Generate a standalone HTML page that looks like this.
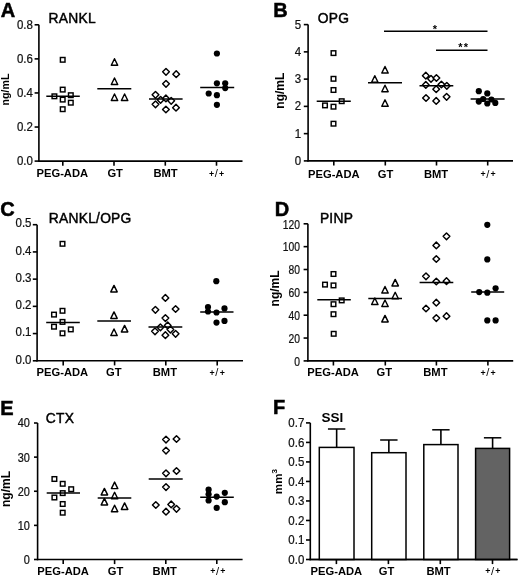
<!DOCTYPE html>
<html><head><meta charset="utf-8"><style>
html,body{margin:0;padding:0;background:#fff;}
body{width:520px;height:577px;overflow:hidden;}
svg{display:block;font-family:"Liberation Sans", sans-serif;filter:grayscale(1);}
</style></head><body>
<svg width="520" height="577" viewBox="0 0 520 577">
<rect width="520" height="577" fill="#fff"/>
<text x="0.8" y="17.3" font-size="20" font-weight="bold" text-anchor="start" fill="#000" stroke="#000" stroke-width="0.5">A</text>
<text x="48.6" y="23" font-size="13.8" font-weight="normal" text-anchor="start" fill="#000" stroke="#000" stroke-width="0.45" letter-spacing="0.25">RANKL</text>
<line x1="38.9" y1="24.8" x2="38.9" y2="161.79999999999998" stroke="#000" stroke-width="1.6"/>
<line x1="34.6" y1="24.8" x2="38.9" y2="24.8" stroke="#000" stroke-width="1.6"/>
<text x="0" y="0" font-size="11.5" text-anchor="end" fill="#111" stroke="#111" stroke-width="0.22" transform="translate(32.90,29.10) scale(1.0,1.07)">0.8</text>
<line x1="34.6" y1="58.875" x2="38.9" y2="58.875" stroke="#000" stroke-width="1.6"/>
<text x="0" y="0" font-size="11.5" text-anchor="end" fill="#111" stroke="#111" stroke-width="0.22" transform="translate(32.90,63.17) scale(1.0,1.07)">0.6</text>
<line x1="34.6" y1="92.94999999999999" x2="38.9" y2="92.94999999999999" stroke="#000" stroke-width="1.6"/>
<text x="0" y="0" font-size="11.5" text-anchor="end" fill="#111" stroke="#111" stroke-width="0.22" transform="translate(32.90,97.25) scale(1.0,1.07)">0.4</text>
<line x1="34.6" y1="127.02499999999999" x2="38.9" y2="127.02499999999999" stroke="#000" stroke-width="1.6"/>
<text x="0" y="0" font-size="11.5" text-anchor="end" fill="#111" stroke="#111" stroke-width="0.22" transform="translate(32.90,131.32) scale(1.0,1.07)">0.2</text>
<line x1="34.6" y1="161.1" x2="38.9" y2="161.1" stroke="#000" stroke-width="1.6"/>
<text x="0" y="0" font-size="11.5" text-anchor="end" fill="#111" stroke="#111" stroke-width="0.22" transform="translate(32.90,165.40) scale(1.0,1.07)">0.0</text>
<line x1="38.199999999999996" y1="161.1" x2="242.5" y2="161.1" stroke="#000" stroke-width="1.6"/>
<line x1="62.8" y1="161.1" x2="62.8" y2="165.7" stroke="#000" stroke-width="1.6"/>
<text x="62.3" y="177.2" font-size="11.2" font-weight="bold" text-anchor="middle" fill="#000" >PEG-ADA</text>
<line x1="114" y1="161.1" x2="114" y2="165.7" stroke="#000" stroke-width="1.6"/>
<text x="115.2" y="177.2" font-size="11.2" font-weight="bold" text-anchor="middle" fill="#000" >GT</text>
<line x1="165.3" y1="161.1" x2="165.3" y2="165.7" stroke="#000" stroke-width="1.6"/>
<text x="165.6" y="177.2" font-size="11.2" font-weight="bold" text-anchor="middle" fill="#000" >BMT</text>
<line x1="216.5" y1="161.1" x2="216.5" y2="165.7" stroke="#000" stroke-width="1.6"/>
<text x="216.6" y="177.2" font-size="11.2" font-weight="bold" text-anchor="middle" fill="#000" ><tspan font-size="8.8" dy="-0.7">+</tspan><tspan dx="0.6" dy="0.7" font-weight="normal">/</tspan><tspan dx="1.2" dy="-0.7" font-size="8.8">+</tspan></text>
<text x="0" y="0" font-size="10.6" font-weight="bold" text-anchor="middle" transform="translate(5.4,89.5) rotate(-90)" dominant-baseline="central">ng/mL</text>
<rect x="60.40" y="57.50" width="4.6" height="4.6" fill="#fff" stroke="#000" stroke-width="1.45"/>
<rect x="60.40" y="87.30" width="4.6" height="4.6" fill="#fff" stroke="#000" stroke-width="1.45"/>
<rect x="52.10" y="94.00" width="4.6" height="4.6" fill="#fff" stroke="#000" stroke-width="1.45"/>
<rect x="68.50" y="92.90" width="4.6" height="4.6" fill="#fff" stroke="#000" stroke-width="1.45"/>
<rect x="60.40" y="97.30" width="4.6" height="4.6" fill="#fff" stroke="#000" stroke-width="1.45"/>
<rect x="68.50" y="100.40" width="4.6" height="4.6" fill="#fff" stroke="#000" stroke-width="1.45"/>
<rect x="60.40" y="106.90" width="4.6" height="4.6" fill="#fff" stroke="#000" stroke-width="1.45"/>
<line x1="46.3" y1="96.3" x2="79.8" y2="96.3" stroke="#000" stroke-width="1.5"/>
<path d="M114.50 58.70L117.70 65.20L111.30 65.20Z" fill="#fff" stroke="#000" stroke-width="1.45" stroke-linejoin="round"/>
<path d="M114.50 78.00L117.70 84.50L111.30 84.50Z" fill="#fff" stroke="#000" stroke-width="1.45" stroke-linejoin="round"/>
<path d="M114.50 94.00L117.70 100.50L111.30 100.50Z" fill="#fff" stroke="#000" stroke-width="1.45" stroke-linejoin="round"/>
<path d="M124.60 94.00L127.80 100.50L121.40 100.50Z" fill="#fff" stroke="#000" stroke-width="1.45" stroke-linejoin="round"/>
<line x1="97.3" y1="88.7" x2="131.3" y2="88.7" stroke="#000" stroke-width="1.5"/>
<path d="M166.00 68.45L169.35 71.80L166.00 75.15L162.65 71.80Z" fill="#fff" stroke="#000" stroke-width="1.45" stroke-linejoin="round"/>
<path d="M176.20 70.85L179.55 74.20L176.20 77.55L172.85 74.20Z" fill="#fff" stroke="#000" stroke-width="1.45" stroke-linejoin="round"/>
<path d="M166.00 80.45L169.35 83.80L166.00 87.15L162.65 83.80Z" fill="#fff" stroke="#000" stroke-width="1.45" stroke-linejoin="round"/>
<path d="M155.50 91.45L158.85 94.80L155.50 98.15L152.15 94.80Z" fill="#fff" stroke="#000" stroke-width="1.45" stroke-linejoin="round"/>
<path d="M160.60 96.45L163.95 99.80L160.60 103.15L157.25 99.80Z" fill="#fff" stroke="#000" stroke-width="1.45" stroke-linejoin="round"/>
<path d="M165.90 95.05L169.25 98.40L165.90 101.75L162.55 98.40Z" fill="#fff" stroke="#000" stroke-width="1.45" stroke-linejoin="round"/>
<path d="M171.20 97.45L174.55 100.80L171.20 104.15L167.85 100.80Z" fill="#fff" stroke="#000" stroke-width="1.45" stroke-linejoin="round"/>
<path d="M155.50 100.95L158.85 104.30L155.50 107.65L152.15 104.30Z" fill="#fff" stroke="#000" stroke-width="1.45" stroke-linejoin="round"/>
<path d="M165.90 106.15L169.25 109.50L165.90 112.85L162.55 109.50Z" fill="#fff" stroke="#000" stroke-width="1.45" stroke-linejoin="round"/>
<path d="M176.00 104.35L179.35 107.70L176.00 111.05L172.65 107.70Z" fill="#fff" stroke="#000" stroke-width="1.45" stroke-linejoin="round"/>
<line x1="149" y1="98.9" x2="182.6" y2="98.9" stroke="#000" stroke-width="1.5"/>
<circle cx="216.90" cy="53.50" r="3.1" fill="#000"/>
<circle cx="216.90" cy="83.30" r="3.1" fill="#000"/>
<circle cx="225.20" cy="83.30" r="3.1" fill="#000"/>
<circle cx="225.20" cy="88.10" r="3.1" fill="#000"/>
<circle cx="208.70" cy="93.50" r="3.1" fill="#000"/>
<circle cx="216.90" cy="95.20" r="3.1" fill="#000"/>
<circle cx="216.90" cy="104.80" r="3.1" fill="#000"/>
<line x1="200.2" y1="87.5" x2="234.2" y2="87.5" stroke="#000" stroke-width="1.5"/>
<text x="273.2" y="16.6" font-size="20" font-weight="bold" text-anchor="start" fill="#000" stroke="#000" stroke-width="0.5">B</text>
<text x="317.8" y="22.8" font-size="13.8" font-weight="normal" text-anchor="start" fill="#000" stroke="#000" stroke-width="0.45" letter-spacing="0.25">OPG</text>
<line x1="308.1" y1="24.6" x2="308.1" y2="161.6" stroke="#000" stroke-width="1.6"/>
<line x1="303.8" y1="24.6" x2="308.1" y2="24.6" stroke="#000" stroke-width="1.6"/>
<text x="0" y="0" font-size="11.5" text-anchor="end" fill="#111" stroke="#111" stroke-width="0.22" transform="translate(301.10,28.60) scale(1.0,1.07)">5</text>
<line x1="303.8" y1="51.86" x2="308.1" y2="51.86" stroke="#000" stroke-width="1.6"/>
<text x="0" y="0" font-size="11.5" text-anchor="end" fill="#111" stroke="#111" stroke-width="0.22" transform="translate(301.10,55.86) scale(1.0,1.07)">4</text>
<line x1="303.8" y1="79.12" x2="308.1" y2="79.12" stroke="#000" stroke-width="1.6"/>
<text x="0" y="0" font-size="11.5" text-anchor="end" fill="#111" stroke="#111" stroke-width="0.22" transform="translate(301.10,83.12) scale(1.0,1.07)">3</text>
<line x1="303.8" y1="106.38" x2="308.1" y2="106.38" stroke="#000" stroke-width="1.6"/>
<text x="0" y="0" font-size="11.5" text-anchor="end" fill="#111" stroke="#111" stroke-width="0.22" transform="translate(301.10,110.38) scale(1.0,1.07)">2</text>
<line x1="303.8" y1="133.64000000000001" x2="308.1" y2="133.64000000000001" stroke="#000" stroke-width="1.6"/>
<text x="0" y="0" font-size="11.5" text-anchor="end" fill="#111" stroke="#111" stroke-width="0.22" transform="translate(301.10,137.64) scale(1.0,1.07)">1</text>
<line x1="303.8" y1="160.9" x2="308.1" y2="160.9" stroke="#000" stroke-width="1.6"/>
<text x="0" y="0" font-size="11.5" text-anchor="end" fill="#111" stroke="#111" stroke-width="0.22" transform="translate(301.10,164.90) scale(1.0,1.07)">0</text>
<line x1="307.40000000000003" y1="160.9" x2="513" y2="160.9" stroke="#000" stroke-width="1.6"/>
<line x1="333.8" y1="160.9" x2="333.8" y2="165.5" stroke="#000" stroke-width="1.6"/>
<text x="333.8" y="177.5" font-size="11.2" font-weight="bold" text-anchor="middle" fill="#000" >PEG-ADA</text>
<line x1="385.3" y1="160.9" x2="385.3" y2="165.5" stroke="#000" stroke-width="1.6"/>
<text x="385.6" y="177.5" font-size="11.2" font-weight="bold" text-anchor="middle" fill="#000" >GT</text>
<line x1="436.5" y1="160.9" x2="436.5" y2="165.5" stroke="#000" stroke-width="1.6"/>
<text x="436" y="177.5" font-size="11.2" font-weight="bold" text-anchor="middle" fill="#000" >BMT</text>
<line x1="487.7" y1="160.9" x2="487.7" y2="165.5" stroke="#000" stroke-width="1.6"/>
<text x="488.1" y="177.5" font-size="11.2" font-weight="bold" text-anchor="middle" fill="#000" ><tspan font-size="8.8" dy="-0.7">+</tspan><tspan dx="0.6" dy="0.7" font-weight="normal">/</tspan><tspan dx="1.2" dy="-0.7" font-size="8.8">+</tspan></text>
<text x="0" y="0" font-size="12" font-weight="bold" text-anchor="middle" transform="translate(280,90.7) rotate(-90)" dominant-baseline="central">ng/mL</text>
<rect x="331.20" y="50.80" width="4.6" height="4.6" fill="#fff" stroke="#000" stroke-width="1.45"/>
<rect x="331.20" y="76.50" width="4.6" height="4.6" fill="#fff" stroke="#000" stroke-width="1.45"/>
<rect x="331.20" y="87.70" width="4.6" height="4.6" fill="#fff" stroke="#000" stroke-width="1.45"/>
<rect x="339.40" y="98.90" width="4.6" height="4.6" fill="#fff" stroke="#000" stroke-width="1.45"/>
<rect x="322.70" y="103.10" width="4.6" height="4.6" fill="#fff" stroke="#000" stroke-width="1.45"/>
<rect x="331.20" y="104.40" width="4.6" height="4.6" fill="#fff" stroke="#000" stroke-width="1.45"/>
<rect x="331.20" y="121.40" width="4.6" height="4.6" fill="#fff" stroke="#000" stroke-width="1.45"/>
<line x1="316.7" y1="101.2" x2="350.8" y2="101.2" stroke="#000" stroke-width="1.5"/>
<path d="M385.00 66.50L388.20 73.00L381.80 73.00Z" fill="#fff" stroke="#000" stroke-width="1.45" stroke-linejoin="round"/>
<path d="M374.80 75.70L378.00 82.20L371.60 82.20Z" fill="#fff" stroke="#000" stroke-width="1.45" stroke-linejoin="round"/>
<path d="M385.00 85.20L388.20 91.70L381.80 91.70Z" fill="#fff" stroke="#000" stroke-width="1.45" stroke-linejoin="round"/>
<path d="M385.00 99.80L388.20 106.30L381.80 106.30Z" fill="#fff" stroke="#000" stroke-width="1.45" stroke-linejoin="round"/>
<line x1="368" y1="82.7" x2="402" y2="82.7" stroke="#000" stroke-width="1.5"/>
<path d="M425.80 72.35L429.15 75.70L425.80 79.05L422.45 75.70Z" fill="#fff" stroke="#000" stroke-width="1.45" stroke-linejoin="round"/>
<path d="M431.00 75.45L434.35 78.80L431.00 82.15L427.65 78.80Z" fill="#fff" stroke="#000" stroke-width="1.45" stroke-linejoin="round"/>
<path d="M436.40 74.65L439.75 78.00L436.40 81.35L433.05 78.00Z" fill="#fff" stroke="#000" stroke-width="1.45" stroke-linejoin="round"/>
<path d="M425.80 81.55L429.15 84.90L425.80 88.25L422.45 84.90Z" fill="#fff" stroke="#000" stroke-width="1.45" stroke-linejoin="round"/>
<path d="M441.40 81.15L444.75 84.50L441.40 87.85L438.05 84.50Z" fill="#fff" stroke="#000" stroke-width="1.45" stroke-linejoin="round"/>
<path d="M446.80 82.45L450.15 85.80L446.80 89.15L443.45 85.80Z" fill="#fff" stroke="#000" stroke-width="1.45" stroke-linejoin="round"/>
<path d="M436.20 85.85L439.55 89.20L436.20 92.55L432.85 89.20Z" fill="#fff" stroke="#000" stroke-width="1.45" stroke-linejoin="round"/>
<path d="M426.00 94.65L429.35 98.00L426.00 101.35L422.65 98.00Z" fill="#fff" stroke="#000" stroke-width="1.45" stroke-linejoin="round"/>
<path d="M436.20 97.55L439.55 100.90L436.20 104.25L432.85 100.90Z" fill="#fff" stroke="#000" stroke-width="1.45" stroke-linejoin="round"/>
<path d="M446.60 93.45L449.95 96.80L446.60 100.15L443.25 96.80Z" fill="#fff" stroke="#000" stroke-width="1.45" stroke-linejoin="round"/>
<line x1="419.5" y1="85.8" x2="453.3" y2="85.8" stroke="#000" stroke-width="1.5"/>
<circle cx="478.80" cy="91.20" r="3.1" fill="#000"/>
<circle cx="487.30" cy="93.40" r="3.1" fill="#000"/>
<circle cx="483.20" cy="99.00" r="3.1" fill="#000"/>
<circle cx="478.80" cy="101.60" r="3.1" fill="#000"/>
<circle cx="487.30" cy="103.50" r="3.1" fill="#000"/>
<circle cx="491.40" cy="99.50" r="3.1" fill="#000"/>
<circle cx="495.30" cy="102.90" r="3.1" fill="#000"/>
<line x1="470.6" y1="99" x2="504.6" y2="99" stroke="#000" stroke-width="1.5"/>
<line x1="384" y1="31.2" x2="487.5" y2="31.2" stroke="#000" stroke-width="1.6"/>
<line x1="436" y1="50.3" x2="487.5" y2="50.3" stroke="#000" stroke-width="1.6"/>
<text x="434.9" y="32.6" font-size="11" font-weight="bold" text-anchor="middle" fill="#000" >*</text>
<text x="460.3" y="51.3" font-size="11" font-weight="bold" text-anchor="middle" fill="#000" >*</text>
<text x="466" y="51.3" font-size="11" font-weight="bold" text-anchor="middle" fill="#000" >*</text>
<text x="0.3" y="216" font-size="20" font-weight="bold" text-anchor="start" fill="#000" stroke="#000" stroke-width="0.5">C</text>
<text x="48.800000000000004" y="223.3" font-size="13.8" font-weight="normal" text-anchor="start" fill="#000" stroke="#000" stroke-width="0.45" letter-spacing="0.25">RANKL/OPG</text>
<line x1="37.1" y1="224.7" x2="37.1" y2="361.5" stroke="#000" stroke-width="1.6"/>
<line x1="32.800000000000004" y1="224.7" x2="37.1" y2="224.7" stroke="#000" stroke-width="1.6"/>
<text x="0" y="0" font-size="11.5" text-anchor="end" fill="#111" stroke="#111" stroke-width="0.22" transform="translate(31.50,227.40) scale(1.0,1.07)">0.5</text>
<line x1="32.800000000000004" y1="251.92" x2="37.1" y2="251.92" stroke="#000" stroke-width="1.6"/>
<text x="0" y="0" font-size="11.5" text-anchor="end" fill="#111" stroke="#111" stroke-width="0.22" transform="translate(31.50,254.62) scale(1.0,1.07)">0.4</text>
<line x1="32.800000000000004" y1="279.14" x2="37.1" y2="279.14" stroke="#000" stroke-width="1.6"/>
<text x="0" y="0" font-size="11.5" text-anchor="end" fill="#111" stroke="#111" stroke-width="0.22" transform="translate(31.50,281.84) scale(1.0,1.07)">0.3</text>
<line x1="32.800000000000004" y1="306.36" x2="37.1" y2="306.36" stroke="#000" stroke-width="1.6"/>
<text x="0" y="0" font-size="11.5" text-anchor="end" fill="#111" stroke="#111" stroke-width="0.22" transform="translate(31.50,309.06) scale(1.0,1.07)">0.2</text>
<line x1="32.800000000000004" y1="333.58000000000004" x2="37.1" y2="333.58000000000004" stroke="#000" stroke-width="1.6"/>
<text x="0" y="0" font-size="11.5" text-anchor="end" fill="#111" stroke="#111" stroke-width="0.22" transform="translate(31.50,336.28) scale(1.0,1.07)">0.1</text>
<line x1="32.800000000000004" y1="360.8" x2="37.1" y2="360.8" stroke="#000" stroke-width="1.6"/>
<text x="0" y="0" font-size="11.5" text-anchor="end" fill="#111" stroke="#111" stroke-width="0.22" transform="translate(31.50,363.50) scale(1.0,1.07)">0.0</text>
<line x1="36.4" y1="360.8" x2="243" y2="360.8" stroke="#000" stroke-width="1.6"/>
<line x1="63.2" y1="360.8" x2="63.2" y2="365.40000000000003" stroke="#000" stroke-width="1.6"/>
<text x="62.4" y="376.2" font-size="11.2" font-weight="bold" text-anchor="middle" fill="#000" >PEG-ADA</text>
<line x1="114.6" y1="360.8" x2="114.6" y2="365.40000000000003" stroke="#000" stroke-width="1.6"/>
<text x="113.8" y="376.2" font-size="11.2" font-weight="bold" text-anchor="middle" fill="#000" >GT</text>
<line x1="165.8" y1="360.8" x2="165.8" y2="365.40000000000003" stroke="#000" stroke-width="1.6"/>
<text x="164.9" y="376.2" font-size="11.2" font-weight="bold" text-anchor="middle" fill="#000" >BMT</text>
<line x1="217.2" y1="360.8" x2="217.2" y2="365.40000000000003" stroke="#000" stroke-width="1.6"/>
<text x="217.2" y="376.2" font-size="11.2" font-weight="bold" text-anchor="middle" fill="#000" ><tspan font-size="8.8" dy="-0.7">+</tspan><tspan dx="0.6" dy="0.7" font-weight="normal">/</tspan><tspan dx="1.2" dy="-0.7" font-size="8.8">+</tspan></text>
<rect x="60.20" y="241.50" width="4.6" height="4.6" fill="#fff" stroke="#000" stroke-width="1.45"/>
<rect x="60.20" y="308.50" width="4.6" height="4.6" fill="#fff" stroke="#000" stroke-width="1.45"/>
<rect x="51.70" y="312.30" width="4.6" height="4.6" fill="#fff" stroke="#000" stroke-width="1.45"/>
<rect x="60.20" y="319.60" width="4.6" height="4.6" fill="#fff" stroke="#000" stroke-width="1.45"/>
<rect x="51.70" y="324.40" width="4.6" height="4.6" fill="#fff" stroke="#000" stroke-width="1.45"/>
<rect x="68.50" y="327.10" width="4.6" height="4.6" fill="#fff" stroke="#000" stroke-width="1.45"/>
<rect x="60.20" y="331.00" width="4.6" height="4.6" fill="#fff" stroke="#000" stroke-width="1.45"/>
<line x1="46.2" y1="322.5" x2="79.8" y2="322.5" stroke="#000" stroke-width="1.5"/>
<path d="M114.00 285.40L117.20 291.90L110.80 291.90Z" fill="#fff" stroke="#000" stroke-width="1.45" stroke-linejoin="round"/>
<path d="M114.00 311.90L117.20 318.40L110.80 318.40Z" fill="#fff" stroke="#000" stroke-width="1.45" stroke-linejoin="round"/>
<path d="M114.00 329.00L117.20 335.50L110.80 335.50Z" fill="#fff" stroke="#000" stroke-width="1.45" stroke-linejoin="round"/>
<path d="M124.60 325.40L127.80 331.90L121.40 331.90Z" fill="#fff" stroke="#000" stroke-width="1.45" stroke-linejoin="round"/>
<line x1="97.3" y1="321" x2="131" y2="321" stroke="#000" stroke-width="1.5"/>
<path d="M165.40 294.55L168.75 297.90L165.40 301.25L162.05 297.90Z" fill="#fff" stroke="#000" stroke-width="1.45" stroke-linejoin="round"/>
<path d="M155.40 306.45L158.75 309.80L155.40 313.15L152.05 309.80Z" fill="#fff" stroke="#000" stroke-width="1.45" stroke-linejoin="round"/>
<path d="M175.60 305.65L178.95 309.00L175.60 312.35L172.25 309.00Z" fill="#fff" stroke="#000" stroke-width="1.45" stroke-linejoin="round"/>
<path d="M165.40 314.75L168.75 318.10L165.40 321.45L162.05 318.10Z" fill="#fff" stroke="#000" stroke-width="1.45" stroke-linejoin="round"/>
<path d="M160.40 323.95L163.75 327.30L160.40 330.65L157.05 327.30Z" fill="#fff" stroke="#000" stroke-width="1.45" stroke-linejoin="round"/>
<path d="M167.70 322.05L171.05 325.40L167.70 328.75L164.35 325.40Z" fill="#fff" stroke="#000" stroke-width="1.45" stroke-linejoin="round"/>
<path d="M155.00 327.95L158.35 331.30L155.00 334.65L151.65 331.30Z" fill="#fff" stroke="#000" stroke-width="1.45" stroke-linejoin="round"/>
<path d="M170.40 326.25L173.75 329.60L170.40 332.95L167.05 329.60Z" fill="#fff" stroke="#000" stroke-width="1.45" stroke-linejoin="round"/>
<path d="M165.40 331.85L168.75 335.20L165.40 338.55L162.05 335.20Z" fill="#fff" stroke="#000" stroke-width="1.45" stroke-linejoin="round"/>
<path d="M175.60 330.45L178.95 333.80L175.60 337.15L172.25 333.80Z" fill="#fff" stroke="#000" stroke-width="1.45" stroke-linejoin="round"/>
<line x1="148.5" y1="326.9" x2="182.3" y2="326.9" stroke="#000" stroke-width="1.5"/>
<circle cx="216.30" cy="281.20" r="3.1" fill="#000"/>
<circle cx="208.00" cy="307.10" r="3.1" fill="#000"/>
<circle cx="208.00" cy="311.50" r="3.1" fill="#000"/>
<circle cx="216.50" cy="312.50" r="3.1" fill="#000"/>
<circle cx="224.50" cy="308.40" r="3.1" fill="#000"/>
<circle cx="216.50" cy="322.60" r="3.1" fill="#000"/>
<circle cx="224.50" cy="320.90" r="3.1" fill="#000"/>
<line x1="200.2" y1="312.1" x2="233.5" y2="312.1" stroke="#000" stroke-width="1.5"/>
<text x="274.7" y="215.9" font-size="20" font-weight="bold" text-anchor="start" fill="#000" stroke="#000" stroke-width="0.5">D</text>
<text x="319.90000000000003" y="222.9" font-size="13.8" font-weight="normal" text-anchor="start" fill="#000" stroke="#000" stroke-width="0.45" letter-spacing="0.25">PINP</text>
<line x1="307.9" y1="223.8" x2="307.9" y2="361.59999999999997" stroke="#000" stroke-width="1.6"/>
<line x1="303.59999999999997" y1="223.8" x2="307.9" y2="223.8" stroke="#000" stroke-width="1.6"/>
<text x="0" y="0" font-size="11.5" text-anchor="end" fill="#111" stroke="#111" stroke-width="0.22" transform="translate(299.90,228.60) scale(0.9,1.07)">120</text>
<line x1="303.59999999999997" y1="246.65" x2="307.9" y2="246.65" stroke="#000" stroke-width="1.6"/>
<text x="0" y="0" font-size="11.5" text-anchor="end" fill="#111" stroke="#111" stroke-width="0.22" transform="translate(299.90,251.45) scale(0.9,1.07)">100</text>
<line x1="303.59999999999997" y1="269.5" x2="307.9" y2="269.5" stroke="#000" stroke-width="1.6"/>
<text x="0" y="0" font-size="11.5" text-anchor="end" fill="#111" stroke="#111" stroke-width="0.22" transform="translate(299.90,274.30) scale(0.9,1.07)">80</text>
<line x1="303.59999999999997" y1="292.35" x2="307.9" y2="292.35" stroke="#000" stroke-width="1.6"/>
<text x="0" y="0" font-size="11.5" text-anchor="end" fill="#111" stroke="#111" stroke-width="0.22" transform="translate(299.90,297.15) scale(0.9,1.07)">60</text>
<line x1="303.59999999999997" y1="315.2" x2="307.9" y2="315.2" stroke="#000" stroke-width="1.6"/>
<text x="0" y="0" font-size="11.5" text-anchor="end" fill="#111" stroke="#111" stroke-width="0.22" transform="translate(299.90,320.00) scale(0.9,1.07)">40</text>
<line x1="303.59999999999997" y1="338.04999999999995" x2="307.9" y2="338.04999999999995" stroke="#000" stroke-width="1.6"/>
<text x="0" y="0" font-size="11.5" text-anchor="end" fill="#111" stroke="#111" stroke-width="0.22" transform="translate(299.90,342.85) scale(0.9,1.07)">20</text>
<line x1="303.59999999999997" y1="360.9" x2="307.9" y2="360.9" stroke="#000" stroke-width="1.6"/>
<text x="0" y="0" font-size="11.5" text-anchor="end" fill="#111" stroke="#111" stroke-width="0.22" transform="translate(299.90,365.70) scale(0.9,1.07)">0</text>
<line x1="307.2" y1="360.9" x2="513.2" y2="360.9" stroke="#000" stroke-width="1.6"/>
<line x1="333.4" y1="360.9" x2="333.4" y2="365.5" stroke="#000" stroke-width="1.6"/>
<text x="333.1" y="376.2" font-size="11.2" font-weight="bold" text-anchor="middle" fill="#000" >PEG-ADA</text>
<line x1="385.3" y1="360.9" x2="385.3" y2="365.5" stroke="#000" stroke-width="1.6"/>
<text x="384.3" y="376.2" font-size="11.2" font-weight="bold" text-anchor="middle" fill="#000" >GT</text>
<line x1="436.4" y1="360.9" x2="436.4" y2="365.5" stroke="#000" stroke-width="1.6"/>
<text x="435.4" y="376.2" font-size="11.2" font-weight="bold" text-anchor="middle" fill="#000" >BMT</text>
<line x1="487.9" y1="360.9" x2="487.9" y2="365.5" stroke="#000" stroke-width="1.6"/>
<text x="488" y="376.2" font-size="11.2" font-weight="bold" text-anchor="middle" fill="#000" ><tspan font-size="8.8" dy="-0.7">+</tspan><tspan dx="0.6" dy="0.7" font-weight="normal">/</tspan><tspan dx="1.2" dy="-0.7" font-size="8.8">+</tspan></text>
<text x="0" y="0" font-size="12" font-weight="bold" text-anchor="middle" transform="translate(274.6,288.4) rotate(-90)" dominant-baseline="central">ng/mL</text>
<rect x="331.20" y="271.70" width="4.6" height="4.6" fill="#fff" stroke="#000" stroke-width="1.45"/>
<rect x="322.70" y="282.30" width="4.6" height="4.6" fill="#fff" stroke="#000" stroke-width="1.45"/>
<rect x="331.20" y="283.10" width="4.6" height="4.6" fill="#fff" stroke="#000" stroke-width="1.45"/>
<rect x="339.40" y="298.10" width="4.6" height="4.6" fill="#fff" stroke="#000" stroke-width="1.45"/>
<rect x="331.20" y="301.90" width="4.6" height="4.6" fill="#fff" stroke="#000" stroke-width="1.45"/>
<rect x="331.20" y="311.90" width="4.6" height="4.6" fill="#fff" stroke="#000" stroke-width="1.45"/>
<rect x="331.40" y="331.50" width="4.6" height="4.6" fill="#fff" stroke="#000" stroke-width="1.45"/>
<line x1="317.3" y1="299.8" x2="350.8" y2="299.8" stroke="#000" stroke-width="1.5"/>
<path d="M395.20 279.40L398.40 285.90L392.00 285.90Z" fill="#fff" stroke="#000" stroke-width="1.45" stroke-linejoin="round"/>
<path d="M385.00 286.50L388.20 293.00L381.80 293.00Z" fill="#fff" stroke="#000" stroke-width="1.45" stroke-linejoin="round"/>
<path d="M395.20 292.30L398.40 298.80L392.00 298.80Z" fill="#fff" stroke="#000" stroke-width="1.45" stroke-linejoin="round"/>
<path d="M374.80 298.00L378.00 304.50L371.60 304.50Z" fill="#fff" stroke="#000" stroke-width="1.45" stroke-linejoin="round"/>
<path d="M385.00 300.00L388.20 306.50L381.80 306.50Z" fill="#fff" stroke="#000" stroke-width="1.45" stroke-linejoin="round"/>
<path d="M385.00 315.40L388.20 321.90L381.80 321.90Z" fill="#fff" stroke="#000" stroke-width="1.45" stroke-linejoin="round"/>
<line x1="368.3" y1="298.5" x2="402" y2="298.5" stroke="#000" stroke-width="1.5"/>
<path d="M446.50 232.95L449.85 236.30L446.50 239.65L443.15 236.30Z" fill="#fff" stroke="#000" stroke-width="1.45" stroke-linejoin="round"/>
<path d="M436.30 242.05L439.65 245.40L436.30 248.75L432.95 245.40Z" fill="#fff" stroke="#000" stroke-width="1.45" stroke-linejoin="round"/>
<path d="M436.30 255.65L439.65 259.00L436.30 262.35L432.95 259.00Z" fill="#fff" stroke="#000" stroke-width="1.45" stroke-linejoin="round"/>
<path d="M426.00 272.95L429.35 276.30L426.00 279.65L422.65 276.30Z" fill="#fff" stroke="#000" stroke-width="1.45" stroke-linejoin="round"/>
<path d="M436.30 278.15L439.65 281.50L436.30 284.85L432.95 281.50Z" fill="#fff" stroke="#000" stroke-width="1.45" stroke-linejoin="round"/>
<path d="M446.50 277.85L449.85 281.20L446.50 284.55L443.15 281.20Z" fill="#fff" stroke="#000" stroke-width="1.45" stroke-linejoin="round"/>
<path d="M436.30 299.35L439.65 302.70L436.30 306.05L432.95 302.70Z" fill="#fff" stroke="#000" stroke-width="1.45" stroke-linejoin="round"/>
<path d="M426.00 305.15L429.35 308.50L426.00 311.85L422.65 308.50Z" fill="#fff" stroke="#000" stroke-width="1.45" stroke-linejoin="round"/>
<path d="M436.30 314.75L439.65 318.10L436.30 321.45L432.95 318.10Z" fill="#fff" stroke="#000" stroke-width="1.45" stroke-linejoin="round"/>
<path d="M446.50 312.85L449.85 316.20L446.50 319.55L443.15 316.20Z" fill="#fff" stroke="#000" stroke-width="1.45" stroke-linejoin="round"/>
<line x1="419.6" y1="282.5" x2="453.3" y2="282.5" stroke="#000" stroke-width="1.5"/>
<circle cx="487.30" cy="224.80" r="3.1" fill="#000"/>
<circle cx="487.30" cy="259.40" r="3.1" fill="#000"/>
<circle cx="495.60" cy="288.30" r="3.1" fill="#000"/>
<circle cx="479.20" cy="292.10" r="3.1" fill="#000"/>
<circle cx="487.30" cy="292.70" r="3.1" fill="#000"/>
<circle cx="487.30" cy="320.40" r="3.1" fill="#000"/>
<circle cx="495.60" cy="320.40" r="3.1" fill="#000"/>
<line x1="471.2" y1="292.1" x2="504.2" y2="292.1" stroke="#000" stroke-width="1.5"/>
<text x="0.3" y="414.7" font-size="20" font-weight="bold" text-anchor="start" fill="#000" stroke="#000" stroke-width="0.5">E</text>
<text x="45.800000000000004" y="422.7" font-size="13.8" font-weight="normal" text-anchor="start" fill="#000" stroke="#000" stroke-width="0.45" letter-spacing="0.25">CTX</text>
<line x1="37.6" y1="423" x2="37.6" y2="560.2" stroke="#000" stroke-width="1.6"/>
<line x1="34.0" y1="423.0" x2="37.6" y2="423.0" stroke="#000" stroke-width="1.6"/>
<text x="0" y="0" font-size="11.5" text-anchor="end" fill="#111" stroke="#111" stroke-width="0.22" transform="translate(29.90,427.40) scale(0.95,1.07)">40</text>
<line x1="34.0" y1="457.125" x2="37.6" y2="457.125" stroke="#000" stroke-width="1.6"/>
<text x="0" y="0" font-size="11.5" text-anchor="end" fill="#111" stroke="#111" stroke-width="0.22" transform="translate(29.90,461.53) scale(0.95,1.07)">30</text>
<line x1="34.0" y1="491.25" x2="37.6" y2="491.25" stroke="#000" stroke-width="1.6"/>
<text x="0" y="0" font-size="11.5" text-anchor="end" fill="#111" stroke="#111" stroke-width="0.22" transform="translate(29.90,495.65) scale(0.95,1.07)">20</text>
<line x1="34.0" y1="525.375" x2="37.6" y2="525.375" stroke="#000" stroke-width="1.6"/>
<text x="0" y="0" font-size="11.5" text-anchor="end" fill="#111" stroke="#111" stroke-width="0.22" transform="translate(29.90,529.77) scale(0.95,1.07)">10</text>
<line x1="34.0" y1="559.5" x2="37.6" y2="559.5" stroke="#000" stroke-width="1.6"/>
<text x="0" y="0" font-size="11.5" text-anchor="end" fill="#111" stroke="#111" stroke-width="0.22" transform="translate(29.90,563.90) scale(0.95,1.07)">0</text>
<line x1="36.9" y1="559.5" x2="242.6" y2="559.5" stroke="#000" stroke-width="1.6"/>
<line x1="63.2" y1="559.5" x2="63.2" y2="564.1" stroke="#000" stroke-width="1.6"/>
<text x="63.1" y="574.8" font-size="11.2" font-weight="bold" text-anchor="middle" fill="#000" >PEG-ADA</text>
<line x1="114.6" y1="559.5" x2="114.6" y2="564.1" stroke="#000" stroke-width="1.6"/>
<text x="115.6" y="574.8" font-size="11.2" font-weight="bold" text-anchor="middle" fill="#000" >GT</text>
<line x1="165.8" y1="559.5" x2="165.8" y2="564.1" stroke="#000" stroke-width="1.6"/>
<text x="164.7" y="574.8" font-size="11.2" font-weight="bold" text-anchor="middle" fill="#000" >BMT</text>
<line x1="216.8" y1="559.5" x2="216.8" y2="564.1" stroke="#000" stroke-width="1.6"/>
<text x="217.8" y="574.8" font-size="11.2" font-weight="bold" text-anchor="middle" fill="#000" ><tspan font-size="8.8" dy="-0.7">+</tspan><tspan dx="0.6" dy="0.7" font-weight="normal">/</tspan><tspan dx="1.2" dy="-0.7" font-size="8.8">+</tspan></text>
<text x="0" y="0" font-size="12" font-weight="bold" text-anchor="middle" transform="translate(6.4,489) rotate(-90)" dominant-baseline="central">ng/mL</text>
<rect x="52.10" y="476.70" width="4.6" height="4.6" fill="#fff" stroke="#000" stroke-width="1.45"/>
<rect x="60.40" y="481.50" width="4.6" height="4.6" fill="#fff" stroke="#000" stroke-width="1.45"/>
<rect x="68.90" y="486.90" width="4.6" height="4.6" fill="#fff" stroke="#000" stroke-width="1.45"/>
<rect x="60.40" y="490.80" width="4.6" height="4.6" fill="#fff" stroke="#000" stroke-width="1.45"/>
<rect x="52.10" y="495.20" width="4.6" height="4.6" fill="#fff" stroke="#000" stroke-width="1.45"/>
<rect x="60.40" y="501.70" width="4.6" height="4.6" fill="#fff" stroke="#000" stroke-width="1.45"/>
<rect x="60.40" y="510.40" width="4.6" height="4.6" fill="#fff" stroke="#000" stroke-width="1.45"/>
<line x1="46.7" y1="493.1" x2="80" y2="493.1" stroke="#000" stroke-width="1.5"/>
<path d="M114.60 482.10L117.80 488.60L111.40 488.60Z" fill="#fff" stroke="#000" stroke-width="1.45" stroke-linejoin="round"/>
<path d="M104.40 488.40L107.60 494.90L101.20 494.90Z" fill="#fff" stroke="#000" stroke-width="1.45" stroke-linejoin="round"/>
<path d="M114.60 492.30L117.80 498.80L111.40 498.80Z" fill="#fff" stroke="#000" stroke-width="1.45" stroke-linejoin="round"/>
<path d="M104.40 498.40L107.60 504.90L101.20 504.90Z" fill="#fff" stroke="#000" stroke-width="1.45" stroke-linejoin="round"/>
<path d="M124.60 502.90L127.80 509.40L121.40 509.40Z" fill="#fff" stroke="#000" stroke-width="1.45" stroke-linejoin="round"/>
<path d="M114.60 505.20L117.80 511.70L111.40 511.70Z" fill="#fff" stroke="#000" stroke-width="1.45" stroke-linejoin="round"/>
<line x1="97.7" y1="497.9" x2="131.3" y2="497.9" stroke="#000" stroke-width="1.5"/>
<path d="M166.00 436.25L169.35 439.60L166.00 442.95L162.65 439.60Z" fill="#fff" stroke="#000" stroke-width="1.45" stroke-linejoin="round"/>
<path d="M176.50 435.65L179.85 439.00L176.50 442.35L173.15 439.00Z" fill="#fff" stroke="#000" stroke-width="1.45" stroke-linejoin="round"/>
<path d="M166.00 447.25L169.35 450.60L166.00 453.95L162.65 450.60Z" fill="#fff" stroke="#000" stroke-width="1.45" stroke-linejoin="round"/>
<path d="M166.00 469.95L169.35 473.30L166.00 476.65L162.65 473.30Z" fill="#fff" stroke="#000" stroke-width="1.45" stroke-linejoin="round"/>
<path d="M176.50 467.65L179.85 471.00L176.50 474.35L173.15 471.00Z" fill="#fff" stroke="#000" stroke-width="1.45" stroke-linejoin="round"/>
<path d="M166.00 483.75L169.35 487.10L166.00 490.45L162.65 487.10Z" fill="#fff" stroke="#000" stroke-width="1.45" stroke-linejoin="round"/>
<path d="M155.80 501.65L159.15 505.00L155.80 508.35L152.45 505.00Z" fill="#fff" stroke="#000" stroke-width="1.45" stroke-linejoin="round"/>
<path d="M171.20 501.05L174.55 504.40L171.20 507.75L167.85 504.40Z" fill="#fff" stroke="#000" stroke-width="1.45" stroke-linejoin="round"/>
<path d="M166.00 508.35L169.35 511.70L166.00 515.05L162.65 511.70Z" fill="#fff" stroke="#000" stroke-width="1.45" stroke-linejoin="round"/>
<path d="M176.50 505.45L179.85 508.80L176.50 512.15L173.15 508.80Z" fill="#fff" stroke="#000" stroke-width="1.45" stroke-linejoin="round"/>
<line x1="148.7" y1="479" x2="182.7" y2="479" stroke="#000" stroke-width="1.5"/>
<circle cx="208.60" cy="489.70" r="3.1" fill="#000"/>
<circle cx="208.60" cy="494.30" r="3.1" fill="#000"/>
<circle cx="208.60" cy="500.50" r="3.1" fill="#000"/>
<circle cx="216.70" cy="496.60" r="3.1" fill="#000"/>
<circle cx="224.80" cy="492.80" r="3.1" fill="#000"/>
<circle cx="224.80" cy="502.20" r="3.1" fill="#000"/>
<circle cx="216.70" cy="507.80" r="3.1" fill="#000"/>
<line x1="200.2" y1="497.2" x2="233.8" y2="497.2" stroke="#000" stroke-width="1.5"/>
<text x="273.1" y="413.8" font-size="20" font-weight="bold" text-anchor="start" fill="#000" stroke="#000" stroke-width="0.5">F</text>
<text x="321.5" y="422.3" font-size="13.5" font-weight="bold" text-anchor="start" fill="#000" >SSI</text>
<line x1="310.3" y1="422.9" x2="310.3" y2="560.2" stroke="#000" stroke-width="1.6"/>
<line x1="306.0" y1="422.9" x2="310.3" y2="422.9" stroke="#000" stroke-width="1.6"/>
<text x="0" y="0" font-size="11.5" text-anchor="end" fill="#111" stroke="#111" stroke-width="0.22" transform="translate(304.30,427.20) scale(1.0,1.07)">0.7</text>
<line x1="306.0" y1="442.4142857142857" x2="310.3" y2="442.4142857142857" stroke="#000" stroke-width="1.6"/>
<text x="0" y="0" font-size="11.5" text-anchor="end" fill="#111" stroke="#111" stroke-width="0.22" transform="translate(304.30,446.71) scale(1.0,1.07)">0.6</text>
<line x1="306.0" y1="461.9285714285714" x2="310.3" y2="461.9285714285714" stroke="#000" stroke-width="1.6"/>
<text x="0" y="0" font-size="11.5" text-anchor="end" fill="#111" stroke="#111" stroke-width="0.22" transform="translate(304.30,466.23) scale(1.0,1.07)">0.5</text>
<line x1="306.0" y1="481.4428571428571" x2="310.3" y2="481.4428571428571" stroke="#000" stroke-width="1.6"/>
<text x="0" y="0" font-size="11.5" text-anchor="end" fill="#111" stroke="#111" stroke-width="0.22" transform="translate(304.30,485.74) scale(1.0,1.07)">0.4</text>
<line x1="306.0" y1="500.95714285714286" x2="310.3" y2="500.95714285714286" stroke="#000" stroke-width="1.6"/>
<text x="0" y="0" font-size="11.5" text-anchor="end" fill="#111" stroke="#111" stroke-width="0.22" transform="translate(304.30,505.26) scale(1.0,1.07)">0.3</text>
<line x1="306.0" y1="520.4714285714285" x2="310.3" y2="520.4714285714285" stroke="#000" stroke-width="1.6"/>
<text x="0" y="0" font-size="11.5" text-anchor="end" fill="#111" stroke="#111" stroke-width="0.22" transform="translate(304.30,524.77) scale(1.0,1.07)">0.2</text>
<line x1="306.0" y1="539.9857142857143" x2="310.3" y2="539.9857142857143" stroke="#000" stroke-width="1.6"/>
<text x="0" y="0" font-size="11.5" text-anchor="end" fill="#111" stroke="#111" stroke-width="0.22" transform="translate(304.30,544.29) scale(1.0,1.07)">0.1</text>
<line x1="306.0" y1="559.5" x2="310.3" y2="559.5" stroke="#000" stroke-width="1.6"/>
<text x="0" y="0" font-size="11.5" text-anchor="end" fill="#111" stroke="#111" stroke-width="0.22" transform="translate(304.30,563.80) scale(1.0,1.07)">0.0</text>
<line x1="309.6" y1="559.5" x2="517.5" y2="559.5" stroke="#000" stroke-width="1.6"/>
<line x1="336.4" y1="559.5" x2="336.4" y2="564.1" stroke="#000" stroke-width="1.6"/>
<text x="336.4" y="575.0" font-size="11.2" font-weight="bold" text-anchor="middle" fill="#000" >PEG-ADA</text>
<line x1="388.4" y1="559.5" x2="388.4" y2="564.1" stroke="#000" stroke-width="1.6"/>
<text x="386.5" y="575.0" font-size="11.2" font-weight="bold" text-anchor="middle" fill="#000" >GT</text>
<line x1="440.3" y1="559.5" x2="440.3" y2="564.1" stroke="#000" stroke-width="1.6"/>
<text x="438.5" y="575.0" font-size="11.2" font-weight="bold" text-anchor="middle" fill="#000" >BMT</text>
<line x1="492.5" y1="559.5" x2="492.5" y2="564.1" stroke="#000" stroke-width="1.6"/>
<text x="492.8" y="575.0" font-size="11.2" font-weight="bold" text-anchor="middle" fill="#000" ><tspan font-size="8.8" dy="-0.7">+</tspan><tspan dx="0.6" dy="0.7" font-weight="normal">/</tspan><tspan dx="1.2" dy="-0.7" font-size="8.8">+</tspan></text>
<line x1="336.65" y1="429" x2="336.65" y2="447.4" stroke="#000" stroke-width="1.6"/>
<line x1="327.95" y1="429" x2="345.34999999999997" y2="429" stroke="#000" stroke-width="1.5"/>
<rect x="319.30" y="447.40" width="34.70" height="112.10" fill="#fff" stroke="#000" stroke-width="1.5"/>
<line x1="388.85" y1="440" x2="388.85" y2="452.7" stroke="#000" stroke-width="1.6"/>
<line x1="380.15000000000003" y1="440" x2="397.55" y2="440" stroke="#000" stroke-width="1.5"/>
<rect x="371.70" y="452.70" width="34.30" height="106.80" fill="#fff" stroke="#000" stroke-width="1.5"/>
<line x1="440.9" y1="429.8" x2="440.9" y2="444.6" stroke="#000" stroke-width="1.6"/>
<line x1="432.2" y1="429.8" x2="449.59999999999997" y2="429.8" stroke="#000" stroke-width="1.5"/>
<rect x="423.80" y="444.60" width="34.20" height="114.90" fill="#fff" stroke="#000" stroke-width="1.5"/>
<line x1="492.6" y1="437.8" x2="492.6" y2="448.4" stroke="#000" stroke-width="1.6"/>
<line x1="483.90000000000003" y1="437.8" x2="501.3" y2="437.8" stroke="#000" stroke-width="1.5"/>
<rect x="475.60" y="448.40" width="34.00" height="111.10" fill="#636363" stroke="#000" stroke-width="1.5"/>
<line x1="309.6" y1="559.5" x2="517.5" y2="559.5" stroke="#000" stroke-width="1.6"/>
<text x="0" y="0" font-size="11.6" font-weight="bold" text-anchor="middle" transform="translate(277.5,481.6) rotate(-90)" dominant-baseline="central">mm<tspan font-size="8" dy="-3.5">3</tspan></text>
</svg>
</body></html>
